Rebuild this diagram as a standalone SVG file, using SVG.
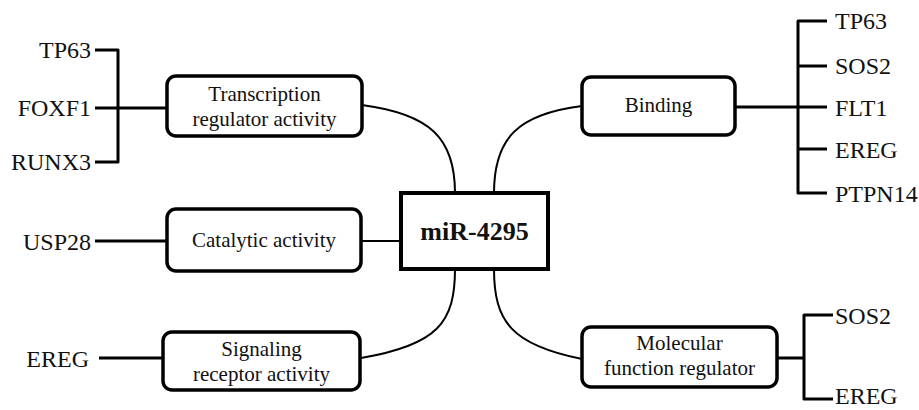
<svg xmlns="http://www.w3.org/2000/svg" width="919" height="410" viewBox="0 0 919 410">
<style>
.box{fill:#fff;stroke:#000;stroke-width:3.5}
.lbl{font-family:"Liberation Serif","Times New Roman",serif;font-size:21px;fill:#111;text-anchor:middle}
.gene{font-family:"Liberation Serif","Times New Roman",serif;font-size:24px;fill:#111}
.end{text-anchor:end}
.thin{fill:none;stroke:#000;stroke-width:2}
.thick{fill:none;stroke:#000;stroke-width:3;stroke-linejoin:round}
</style>
<rect width="919" height="410" fill="#fff"/>
<g id="connectors">
<path class="thin" d="M362,105 C430,114 455,138 455,193"/>
<path class="thin" d="M582,106 C518,114 494,138 494,193"/>
<path class="thin" d="M455,269 C455,322 438,345 361,358"/>
<path class="thin" d="M494,269 C494,322 512,345 582,359"/>
<path class="thin" d="M361,241 L401,241"/>
<path class="thick" d="M95,50 L118,50 L118,162 L95,162 M95,108 L167,108"/>
<path class="thick" d="M95,241 L167,241"/>
<path class="thick" d="M99,358 L163,358"/>
<path class="thick" d="M827,21 L798,21 L798,193 L827,193 M798,66 L827,66 M735,107 L827,107 M798,149 L827,149"/>
<path class="thick" d="M833,315 L804,315 L804,399 L833,399 M777,358 L804,358"/>
</g>
<g id="center">
<rect x="401" y="193" width="147" height="76" fill="#fff" stroke="#000" stroke-width="4"/>
<text x="474.5" y="240" class="lbl" style="font-size:26px;font-weight:bold">miR-4295</text>
</g>
<g id="transcription">
<rect class="box" x="167" y="76" width="195" height="60" rx="9"/>
<text class="lbl" x="264.5" y="101">Transcription</text>
<text class="lbl" x="264.5" y="126">regulator activity</text>
</g>
<g id="catalytic">
<rect class="box" x="167" y="209" width="194" height="62" rx="9"/>
<text class="lbl" x="264" y="247">Catalytic activity</text>
</g>
<g id="signaling">
<rect class="box" x="163" y="332" width="197" height="58" rx="9"/>
<text class="lbl" x="261.5" y="356">Signaling</text>
<text class="lbl" x="261.5" y="381">receptor activity</text>
</g>
<g id="binding">
<rect class="box" x="582" y="77" width="153" height="58" rx="9"/>
<text class="lbl" x="658.5" y="112">Binding</text>
</g>
<g id="molecular">
<rect class="box" x="582" y="327" width="195" height="60" rx="9"/>
<text class="lbl" x="679.5" y="350">Molecular</text>
<text class="lbl" x="679.5" y="375">function regulator</text>
</g>
<g id="gene-tp63-left"><text class="gene end" x="91" y="58">TP63</text></g>
<g id="gene-foxf1"><text class="gene end" x="91" y="116">FOXF1</text></g>
<g id="gene-runx3"><text class="gene end" x="91" y="170">RUNX3</text></g>
<g id="gene-usp28"><text class="gene end" x="91" y="250">USP28</text></g>
<g id="gene-ereg-left"><text class="gene end" x="89" y="367">EREG</text></g>
<g id="gene-tp63-right"><text class="gene" x="835" y="29">TP63</text></g>
<g id="gene-sos2-right"><text class="gene" x="835" y="74">SOS2</text></g>
<g id="gene-flt1"><text class="gene" x="835" y="116">FLT1</text></g>
<g id="gene-ereg-right"><text class="gene" x="835" y="158">EREG</text></g>
<g id="gene-ptpn14"><text class="gene" x="835" y="202">PTPN14</text></g>
<g id="gene-sos2-bottom"><text class="gene" x="835" y="324">SOS2</text></g>
<g id="gene-ereg-bottom"><text class="gene" x="835" y="404">EREG</text></g>
</svg>
